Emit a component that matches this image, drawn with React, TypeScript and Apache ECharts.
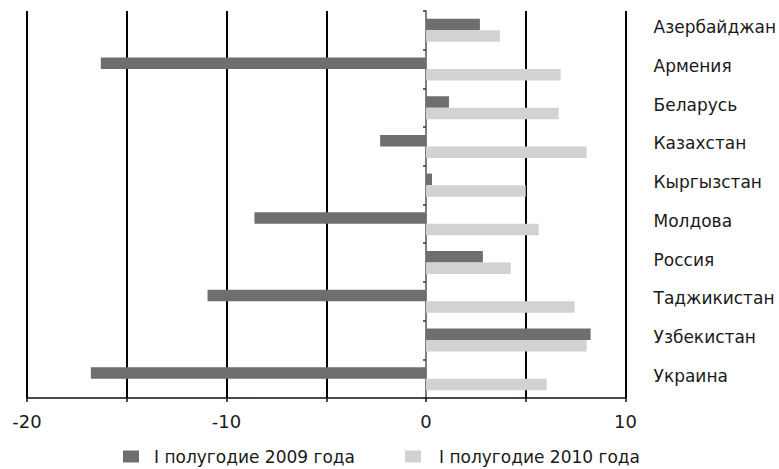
import React, { useEffect, useRef } from "react";
import * as echarts from "echarts";

const categories = [
  "Азербайджан",
  "Армения",
  "Беларусь",
  "Казахстан",
  "Кыргызстан",
  "Молдова",
  "Россия",
  "Таджикистан",
  "Узбекистан",
  "Украина",
];
const series2009 = [2.7, -16.3, 1.15, -2.3, 0.3, -8.6, 2.85, -10.95, 8.25, -16.8];
const series2010 = [3.7, 6.75, 6.65, 8.05, 5.0, 5.65, 4.25, 7.45, 8.05, 6.05];
const seriesNames = ["I полугодие 2009 года", "I полугодие 2010 года"];
const xTicks = { min: -20, max: 10, interval: 5, labelEvery: 10 };

const FONT = "DejaVu Sans";

export default function App() {
  const ref = useRef<HTMLDivElement>(null);
  useEffect(() => {
    document.body.style.margin = "0";
    const chart = echarts.init(ref.current!, null, { renderer: "svg" });
    chart.setOption({
      animation: false,
      backgroundColor: "#ffffff",
      grid: { left: 27, right: 150, top: 11, bottom: 71, containLabel: false },
      legend: [
        {
          data: [seriesNames[0]],
          left: 118,
          top: 443,
          itemWidth: 16,
          itemHeight: 12,
          icon: "rect",
          textStyle: { fontFamily: FONT, fontSize: 17, color: "#1a1a1a", padding: [0, 0, 0, 10] },
        },
        {
          data: [seriesNames[1]],
          left: 400,
          top: 443,
          itemWidth: 16,
          itemHeight: 12,
          icon: "rect",
          textStyle: { fontFamily: FONT, fontSize: 17, color: "#1a1a1a", padding: [0, 0, 0, 13] },
        },
      ],
      xAxis: {
        type: "value",
        min: xTicks.min,
        max: xTicks.max,
        interval: xTicks.interval,
        axisLine: { show: true, onZero: false, lineStyle: { color: "#111", width: 1.5 } },
        axisTick: { show: true, length: 4, lineStyle: { color: "#111", width: 1.5 } },
        axisLabel: {
          fontFamily: FONT,
          fontSize: 18,
          color: "#1a1a1a",
          margin: 14,
          formatter: (v: number) => (v % xTicks.labelEvery === 0 ? String(v) : ""),
        },
        splitLine: {
          show: true,
          lineStyle: {
            color: ["#000", "#000", "#000", "#000", "rgba(0,0,0,0)", "#000", "#000"],
            width: 2,
          },
        },
      },
      yAxis: [
        {
          type: "category",
          data: categories,
          inverse: true,
          axisLine: { show: true, onZero: true, lineStyle: { color: "#555", width: 1.5 } },
          axisTick: { show: true, length: 3, lineStyle: { color: "#333", width: 1.5 } },
          axisLabel: { show: false },
          splitLine: { show: false },
        },
        {
          type: "category",
          data: categories,
          inverse: true,
          position: "right",
          axisLine: { show: false },
          axisTick: { show: false },
          axisLabel: {
            show: true,
            margin: 28,
            align: "left",
            verticalAlign: "middle",
            formatter: (v: string) => "{a|" + v + "}",
            rich: {
              a: {
                fontFamily: FONT,
                fontSize: 17,
                color: "#1a1a1a",
                padding: [0, 0, 6, 0],
              },
            },
          },
          splitLine: { show: false },
        },
      ],
      series: [
        {
          name: seriesNames[0],
          type: "bar",
          yAxisIndex: 0,
          data: series2009,
          barWidth: 11.5,
          barGap: "0%",
          itemStyle: { color: "#6d6e70" },
        },
        {
          name: seriesNames[1],
          type: "bar",
          yAxisIndex: 0,
          data: series2010,
          barWidth: 11.5,
          barGap: "0%",
          itemStyle: { color: "#d1d2d4" },
        },
      ],
    });
    return () => chart.dispose();
  }, []);
  return (
    <div
      ref={ref}
      style={{ position: "fixed", left: 0, top: 0, width: 779, height: 469 }}
    />
  );
}
